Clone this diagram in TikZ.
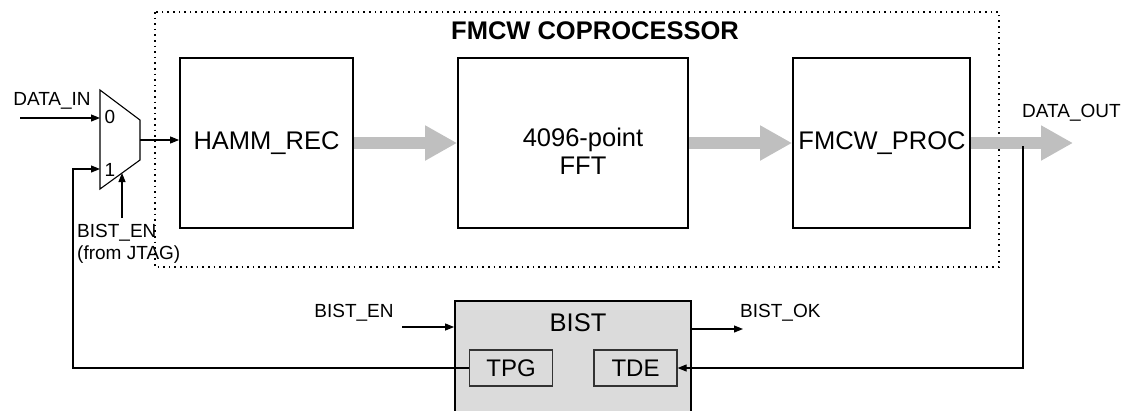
\documentclass[tikz,border=0pt]{standalone}
\usepackage{fontspec}
\setmainfont{Liberation Sans}
\usetikzlibrary{arrows.meta}

\begin{document}
\begin{tikzpicture}[x=1pt,y=-1pt,
  blk/.style={draw=black, line width=1.8pt, minimum width=173pt, minimum height=170pt, inner sep=0pt, font=\fontsize{25.5}{29}\selectfont, align=center},
  subblk/.style={draw=black!80, fill=black!14, line width=1.2pt, minimum width=83pt, minimum height=36pt, inner sep=0pt, font=\fontsize{24}{28}\selectfont},
  lbl/.style={inner sep=0pt, font=\fontsize{19}{22}\selectfont},
  sig/.style={line width=1.1pt, -{Triangle[length=9pt,width=7pt]}},
  fat/.style={draw=black!25, line width=12pt, -{Triangle[length=32pt,width=33pt]}}]
\useasboundingbox (0,0) rectangle (1123,410);
\clip (0,0) rectangle (1123,410);
% coprocessor frame
\draw[line width=1.4pt, dash pattern=on 1.6pt off 4pt] (155,12) rectangle (999,267);
\node[font=\fontsize{25.5}{29}\selectfont\bfseries] (title) at (595,31) {FMCW COPROCESSOR};
% pipeline
\node[blk] (hamm) at (266.5,143) {HAMM\_REC};
\node[blk, minimum width=230pt] (fft) at (573,143) {};
\node[font=\fontsize{25.5}{28}\selectfont, align=center, inner sep=0pt] (fftlbl) at (583,151) {4096-point\\FFT};
\node[blk, minimum width=177pt] (fproc) at (881.5,143) {};
\node[font=\fontsize{25.5}{29}\selectfont, inner sep=0pt] (fproclbl) at (882,143) {FMCW\_PROC};
\draw[fat] (hamm.east) -- (fft.west);
\draw[fat] (fft.east) -- (fproc.west);
\draw[fat] (fproc.east) -- (1073,143);
\node[lbl, anchor=base west] (dout) at (1022,117) {DATA\_OUT};
% input mux
\draw[line width=1.1pt] (100,90) -- (140,120) -- (140,160) -- (100,189) -- cycle;
\coordinate (in0) at (100,118);
\coordinate (in1) at (100,169);
\coordinate (muxout) at (140,140);
\coordinate (muxsel) at (122,173);
\node[lbl] (zero) at (110,117) {0};
\node[lbl] (one) at (110,170) {1};
\coordinate (din) at (20,118);
\node[lbl] (dinlbl) at (52,101) {DATA\_IN};
\draw[sig] (din) -- (in0);
\draw[sig] (muxout) -- (muxout -| hamm.west);
\coordinate (jtag) at (122,218);
\draw[sig] (jtag) -- (muxsel);
\node[lbl, anchor=north west, align=left] (jtaglbl) at (77,224) {BIST\_EN\\(from JTAG)};
% BIST
\node[draw=black, fill=black!14, line width=1.8pt, minimum width=236pt, minimum height=130pt, inner sep=0pt] (bist) at (573,366) {};
\node[font=\fontsize{25.5}{29}\selectfont, inner sep=0pt] (bistlbl) at (578,323) {BIST};
\node[subblk] (tpg) at (511,368) {TPG};
\node[subblk] (tde) at (635.5,368) {TDE};
\coordinate (ben) at (402,327);
\node[lbl] (benlbl) at (354,313) {BIST\_EN};
\draw[sig] (ben) -- (ben -| bist.west);
\coordinate (bok) at (743,329);
\node[lbl, anchor=base west] (boklbl) at (740,317) {BIST\_OK};
\draw[sig] (bok -| bist.east) -- (bok);
% loop back paths
\coordinate (fbl) at (73,368);
\draw[sig] (tpg.west) -- (fbl) |- (in1);
\coordinate (tap) at (1023,146);
\draw[sig] (tap) |- (tde.east);
\end{tikzpicture}
\end{document}
